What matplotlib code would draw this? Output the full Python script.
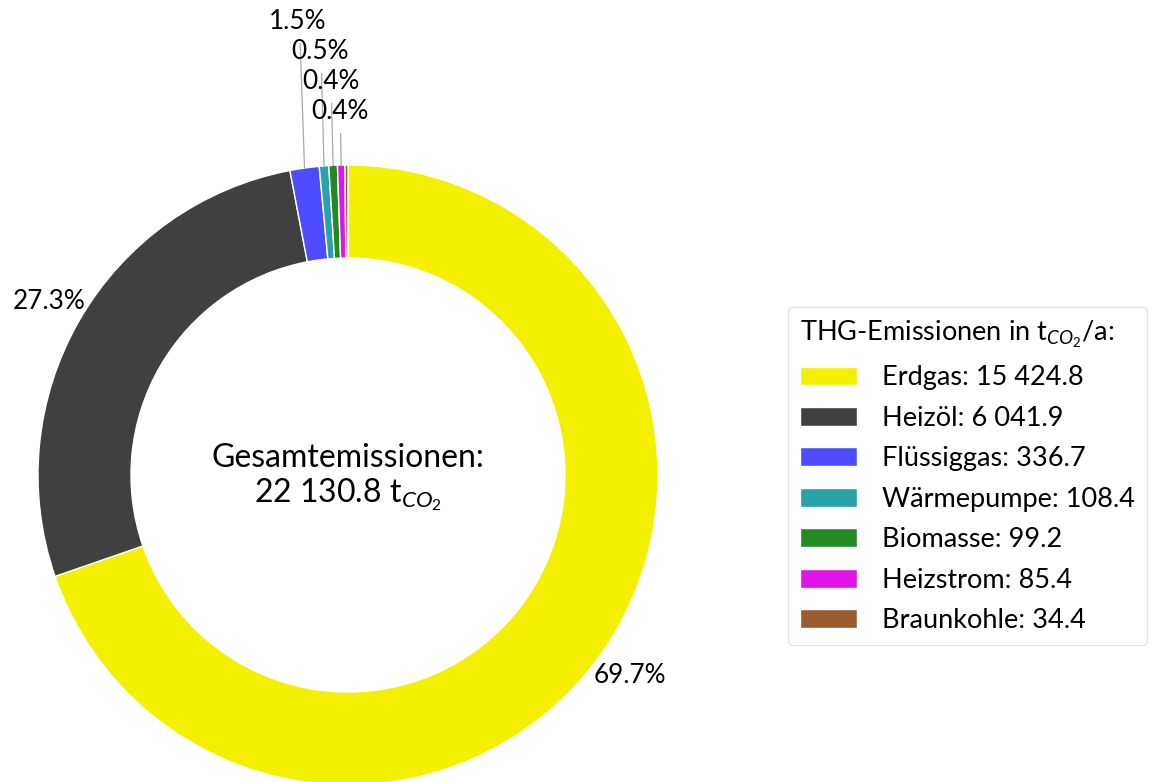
import numpy as np
import matplotlib
matplotlib.use("Agg")
import matplotlib.pyplot as plt

# Daten
energietraeger = ["Erdgas", "Heizöl", "Flüssiggas", "Wärmepumpe", "Biomasse", "Heizstrom", "Braunkohle"]
emissionen = [15424.8, 6041.9, 336.7, 108.4, 99.2, 85.4, 34.4]
farben = ["#f5ef00", "#404040", "#4d4dff", "#29a2aa", "#228b22", "#e014e8", "#9a5c2e"]

plt.rcParams['font.family'] = ['Lato', 'DejaVu Sans']
plt.rcParams['mathtext.fontset'] = 'custom'
plt.rcParams['mathtext.rm'] = 'Lato'
plt.rcParams['mathtext.it'] = 'Lato:italic'


def fmt(v):
    return f"{v:,.1f}".replace(",", " ")


gesamt = sum(emissionen)
anteile = [100 * v / gesamt for v in emissionen]

fig = plt.figure(figsize=(11.5, 7.82), dpi=100)
ax = fig.add_axes([0, 0, 1, 1])

# Ring-Diagramm (Mittelpunkt ~ (348, 475) px, Radius 310 px)
wedges, _ = ax.pie(emissionen, colors=farben, startangle=90, counterclock=False,
                   radius=1.0, wedgeprops=dict(width=0.3, edgecolor='white', linewidth=1))
ax.set_xlim(-348 / 310, (1150 - 348) / 310)
ax.set_ylim((475 - 782) / 310, 475 / 310)
ax.axis('off')

# Prozent-Beschriftungen
k = 0
for w, p in zip(wedges, anteile):
    mid = np.deg2rad((w.theta1 + w.theta2) / 2)
    c, s = np.cos(mid), np.sin(mid)
    if p >= 5:
        ax.text(1.115 * c, 1.115 * s, f"{p:.1f}%", ha='center', va='center', fontsize=18.8)
    elif p >= 0.3:
        ty = 1.462 - k * 0.097
        tx = 1.15 * c
        ax.plot([c, 1.1 * c], [s, ty - 0.07], color='#aaaaaa', lw=0.9)
        ax.text(tx, ty, f"{p:.1f}%", ha='center', va='center', fontsize=18.8)
        k += 1

# Text in der Mitte
ax.text(0, -0.01, "Gesamtemissionen:\n" + fmt(gesamt) + r" t$_{CO_2}$",
        ha='center', va='center', fontsize=23, linespacing=1.15)

# Legende
labels = [f"{n}: {fmt(v)}" for n, v in zip(energietraeger, emissionen)]
leg = fig.legend(wedges, labels, loc='center left', bbox_to_anchor=(788 / 1150, 1 - 476 / 782),
                 title=r"THG-Emissionen in t$_{CO_2}$/a:", alignment='left',
                 fontsize=19.5, title_fontsize=19.5, handlelength=2.1, handleheight=0.7,
                 handletextpad=0.93, labelspacing=0.57, frameon=True, fancybox=True,
                 edgecolor='#dddddd', borderpad=0.45, borderaxespad=0)

fig.savefig("out.png", dpi=100)
